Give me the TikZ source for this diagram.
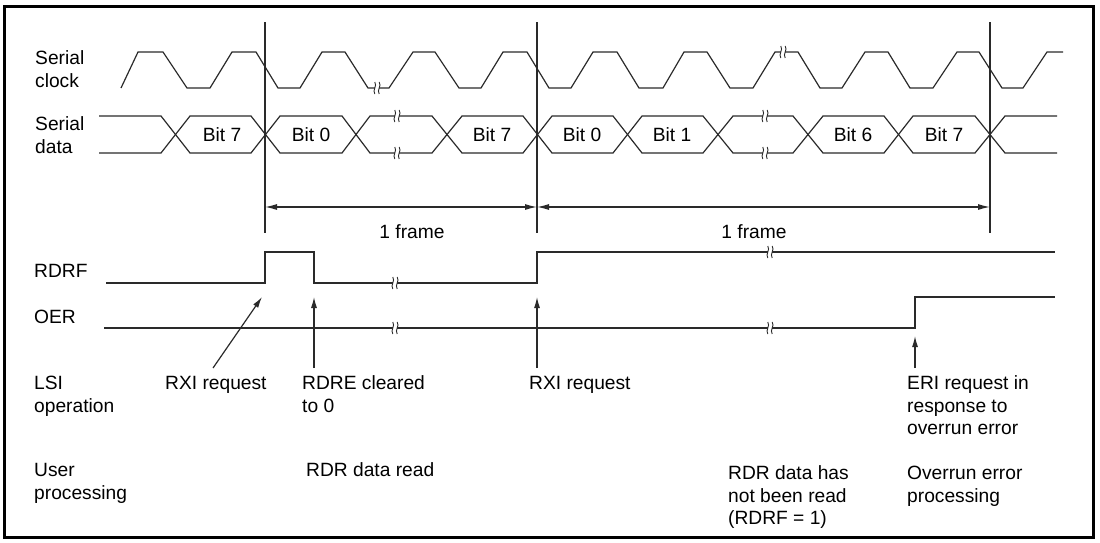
\documentclass[tikz,border=0pt]{standalone}
\usepackage{fontspec}
\setmainfont{Liberation Sans}
\usetikzlibrary{arrows.meta}
\definecolor{ln}{HTML}{2A2A2A}
\begin{document}
\begin{tikzpicture}[x=1pt,y=-1pt,
  sig/.style={draw=ln,line width=1.2pt,line join=miter},
  vline/.style={draw=ln,line width=1.2pt},
  lbl/.style={anchor=base west,inner sep=0pt,align=left,text=black,font=\fontsize{19.2}{22.5}\selectfont},
  bitlbl/.style={anchor=base,inner sep=0pt,text=black,font=\fontsize{19.2}{22.5}\selectfont},
  uparrow/.style={draw=ln,line width=1.2pt,-{Latex[length=11pt,width=6pt]}},
  dimarrow/.style={draw=ln,line width=1.2pt,{Latex[length=12pt,width=6pt]}-{Latex[length=12pt,width=6pt]}},
  brk/.pic={\fill[white] (-2.2,-5) rectangle (2.2,5);
    \draw[ln,line width=0.9pt] (-2.2,6) .. controls (-5,2) and (0.6,-2) .. (-2.2,-6);
    \draw[ln,line width=0.9pt] (2.2,6) .. controls (-0.6,2) and (5,-2) .. (2.2,-6);}
]
\useasboundingbox (0,0) rectangle (1100,542);
\draw[black,line width=3pt] (4,6) rectangle (1093,537);

% labels (base anchor = baseline of the last line)
\node[lbl] (sclk) at (35,87.1) {Serial\\clock};
\node[lbl] (sdat) at (35,153.1) {Serial\\data};
\node[lbl] (rdrf) at (34,277.6) {RDRF};
\node[lbl] (oer) at (34,323.6) {OER};
\node[lbl] (lsi) at (34,412.1) {LSI\\operation};
\node[lbl] (usr) at (34,499.1) {User\\processing};
\node[lbl] (rxi1) at (165,389.6) {RXI request};
\node[lbl] (rdre) at (302,412.1) {RDRE cleared\\to 0};
\node[lbl] (rxi2) at (529,389.6) {RXI request};
\node[lbl] (eri) at (907,434.6) {ERI request in\\response to\\overrun error};
\node[lbl] (rdrr) at (306,476.6) {RDR data read};
\node[lbl] (nrd) at (728,524.6) {RDR data has\\not been read\\(RDRF = 1)};
\node[lbl] (ovr) at (907,502.1) {Overrun error\\processing};

% clock
\draw[sig] (121,88) -- (138,52) -- (163,52) -- (187,88) -- (210,88) -- (232,52) -- (256,52) -- (278,88)
 -- (300,88) -- (322,52) -- (345,52) -- (368,88) -- (389,88) -- (413,52) -- (435,52) -- (459,88)
 -- (481,88) -- (503,52) -- (527,52) -- (549,88) -- (571,88) -- (593,52) -- (617,52) -- (639,88)
 -- (663,88) -- (684,52) -- (707,52) -- (730,88) -- (753,88) -- (775,52) -- (798,52) -- (820,88)
 -- (842,88) -- (865,52) -- (888,52) -- (910,88) -- (933,88) -- (957,52) -- (979,52) -- (1002,88)
 -- (1023,88) -- (1047,52) -- (1063,52);
\pic at (377,88) {brk};
\pic at (783,52) {brk};

% data
\draw[sig] (99,116) -- (161,116) -- (190,153) -- (251,153) -- (280,116) -- (342,116) -- (370,153)
 -- (432,153) -- (462,116) -- (523,116) -- (552,153) -- (613,153) -- (642,116) -- (703,116) -- (733,153)
 -- (793,153) -- (823,116) -- (884,116) -- (913,153) -- (975,153) -- (1005,116) -- (1057,116);
\draw[sig] (99,153) -- (161,153) -- (190,116) -- (251,116) -- (280,153) -- (342,153) -- (370,116)
 -- (432,116) -- (462,153) -- (523,153) -- (552,116) -- (613,116) -- (642,153) -- (703,153) -- (733,116)
 -- (793,116) -- (823,153) -- (884,153) -- (913,116) -- (975,116) -- (1005,153) -- (1057,153);
\pic at (397,116) {brk};
\pic at (397,153) {brk};
\pic at (765,116) {brk};
\pic at (765,153) {brk};
\node[bitlbl] (b7a) at (222,141.6) {Bit 7};
\node[bitlbl] (b0a) at (311,141.6) {Bit 0};
\node[bitlbl] (b7b) at (492,141.6) {Bit 7};
\node[bitlbl] (b0b) at (582,141.6) {Bit 0};
\node[bitlbl] (b1b) at (672,141.6) {Bit 1};
\node[bitlbl] (b6b) at (853,141.6) {Bit 6};
\node[bitlbl] (b7c) at (944,141.6) {Bit 7};

% vertical reference lines
\coordinate (v1t) at (265,22); \coordinate (v1b) at (265,233);
\coordinate (v2t) at (537,22); \coordinate (v2b) at (537,233);
\coordinate (v3t) at (990,22); \coordinate (v3b) at (990,233);
\draw[vline] (v1t) -- (v1b);
\draw[vline] (v2t) -- (v2b);
\draw[vline] (v3t) -- (v3b);

% frame dimension arrows
\coordinate (f1) at (265,207); \coordinate (f2) at (537,207); \coordinate (f3) at (990,207);
\draw[dimarrow] (f1) -- (f2);
\draw[dimarrow] (f2) -- (f3);
\node[bitlbl] (fr1) at (412,238.6) {1 frame};
\node[bitlbl] (fr2) at (754,238.6) {1 frame};

% RDRF
\draw[sig] (106,283) -- (265,283) -- (265,252) -- (314,252) -- (314,283) -- (537,283) -- (537,252) -- (1055,252);
\pic at (395,283) {brk};
\pic at (770,252) {brk};
% OER
\draw[sig] (104,328) -- (915,328) -- (915,297) -- (1055,297);
\pic at (395,328) {brk};
\pic at (770,328) {brk};

% event arrows
\coordinate (a1s) at (213,368); \coordinate (a1e) at (262,297);
\coordinate (a2s) at (314,368); \coordinate (a2e) at (314,297);
\coordinate (a3s) at (537,368); \coordinate (a3e) at (537,297);
\coordinate (a4s) at (915,368); \coordinate (a4e) at (915,336);
\draw[uparrow] (a1s) -- (a1e);
\draw[uparrow] (a2s) -- (a2e);
\draw[uparrow] (a3s) -- (a3e);
\draw[uparrow] (a4s) -- (a4e);
\end{tikzpicture}
\end{document}
